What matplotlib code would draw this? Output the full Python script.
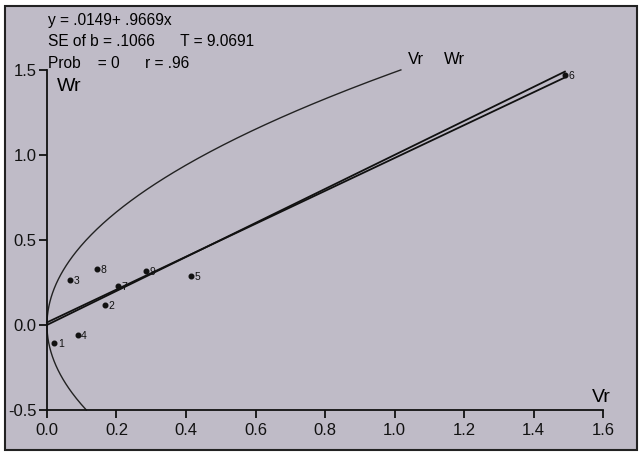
import numpy as np
import matplotlib
matplotlib.use("Agg")
import matplotlib.pyplot as plt
from matplotlib.patches import Rectangle

plt.rcParams["font.family"] = ["Liberation Sans", "DejaVu Sans"]

# array points (Vr, Wr) and their labels
labels = ["1", "2", "3", "4", "5", "6", "7", "8", "9"]
vr = [0.021, 0.168, 0.066, 0.088, 0.415, 1.49, 0.203, 0.143, 0.285]
wr = [-0.107, 0.117, 0.264, -0.061, 0.288, 1.47, 0.232, 0.329, 0.32]

intercept = 0.0149
slope = 0.9669
vp = 2.21  # parental variance for the limiting parabola Wr^2 = Vr * Vp
line_end = 1.49

x_ticks = [0.0, 0.2, 0.4, 0.6, 0.8, 1.0, 1.2, 1.4, 1.6]
y_ticks = [-0.5, 0.0, 0.5, 1.0, 1.5]

bg = "#bfbbc7"

fig = plt.figure(figsize=(6.4, 4.54), dpi=100)
fig.patch.set_facecolor("white")
fig.patches.append(Rectangle((0.008, 0.009), 0.988, 0.978, transform=fig.transFigure,
                             facecolor=bg, edgecolor="#222222", linewidth=1.5, zorder=-1))

ax = fig.add_axes([0.0734, 0.097, 0.869, 0.749])
ax.set_zorder(1)
ax.set_facecolor("none")

# limiting parabola
w = np.linspace(-0.5, 1.5, 300)
ax.plot(w ** 2 / vp, w, color="#222222", linewidth=1.0, clip_on=False)

# unit slope line and regression line
xs = np.array([0.0, line_end])
ax.plot(xs, xs, color="#111111", linewidth=1.3, clip_on=False)
ax.plot(xs, intercept + slope * xs, color="#111111", linewidth=1.3, clip_on=False)

ax.scatter(vr, wr, s=11, color="#111111", zorder=3, clip_on=False)
for lab, x, y in zip(labels, vr, wr):
    ax.annotate(lab, (x, y), textcoords="offset points", xytext=(2.5, -3),
                fontsize=7.5, color="#111111")

ax.set_xlim(0, 1.6)
ax.set_ylim(-0.5, 1.5)
ax.set_xticks(x_ticks)
ax.set_xticklabels([f"{t:.1f}" for t in x_ticks])
ax.set_yticks(y_ticks)
ax.set_yticklabels([f"{t:.1f}" for t in y_ticks])
for side in ["top", "right"]:
    ax.spines[side].set_visible(False)
for side in ["left", "bottom"]:
    ax.spines[side].set_color("#111111")
    ax.spines[side].set_linewidth(1.3)
ax.tick_params(colors="#111111", labelsize=12, length=5.5, width=1.3)
ax.tick_params(axis="y", pad=2)
ax.tick_params(axis="x", pad=4)

ax.text(0.017, 0.975, "Wr", transform=ax.transAxes, fontsize=14, va="top", ha="left")
ax.text(1.568, -0.475, "Vr", fontsize=14, va="bottom", ha="left")
ax.text(1.039, 1.515, "Vr", fontsize=12, va="bottom", ha="left")
ax.text(1.142, 1.515, "Wr", fontsize=12, va="bottom", ha="left")

fig.text(0.075, 0.955, "y = .0149+ .9669x", fontsize=11.2, va="center")
fig.text(0.075, 0.908, "SE of b = .1066      T = 9.0691", fontsize=11.2, va="center")
fig.text(0.075, 0.861, "Prob    = 0      r = .96", fontsize=11.2, va="center")

fig.savefig("out.png", dpi=100)
